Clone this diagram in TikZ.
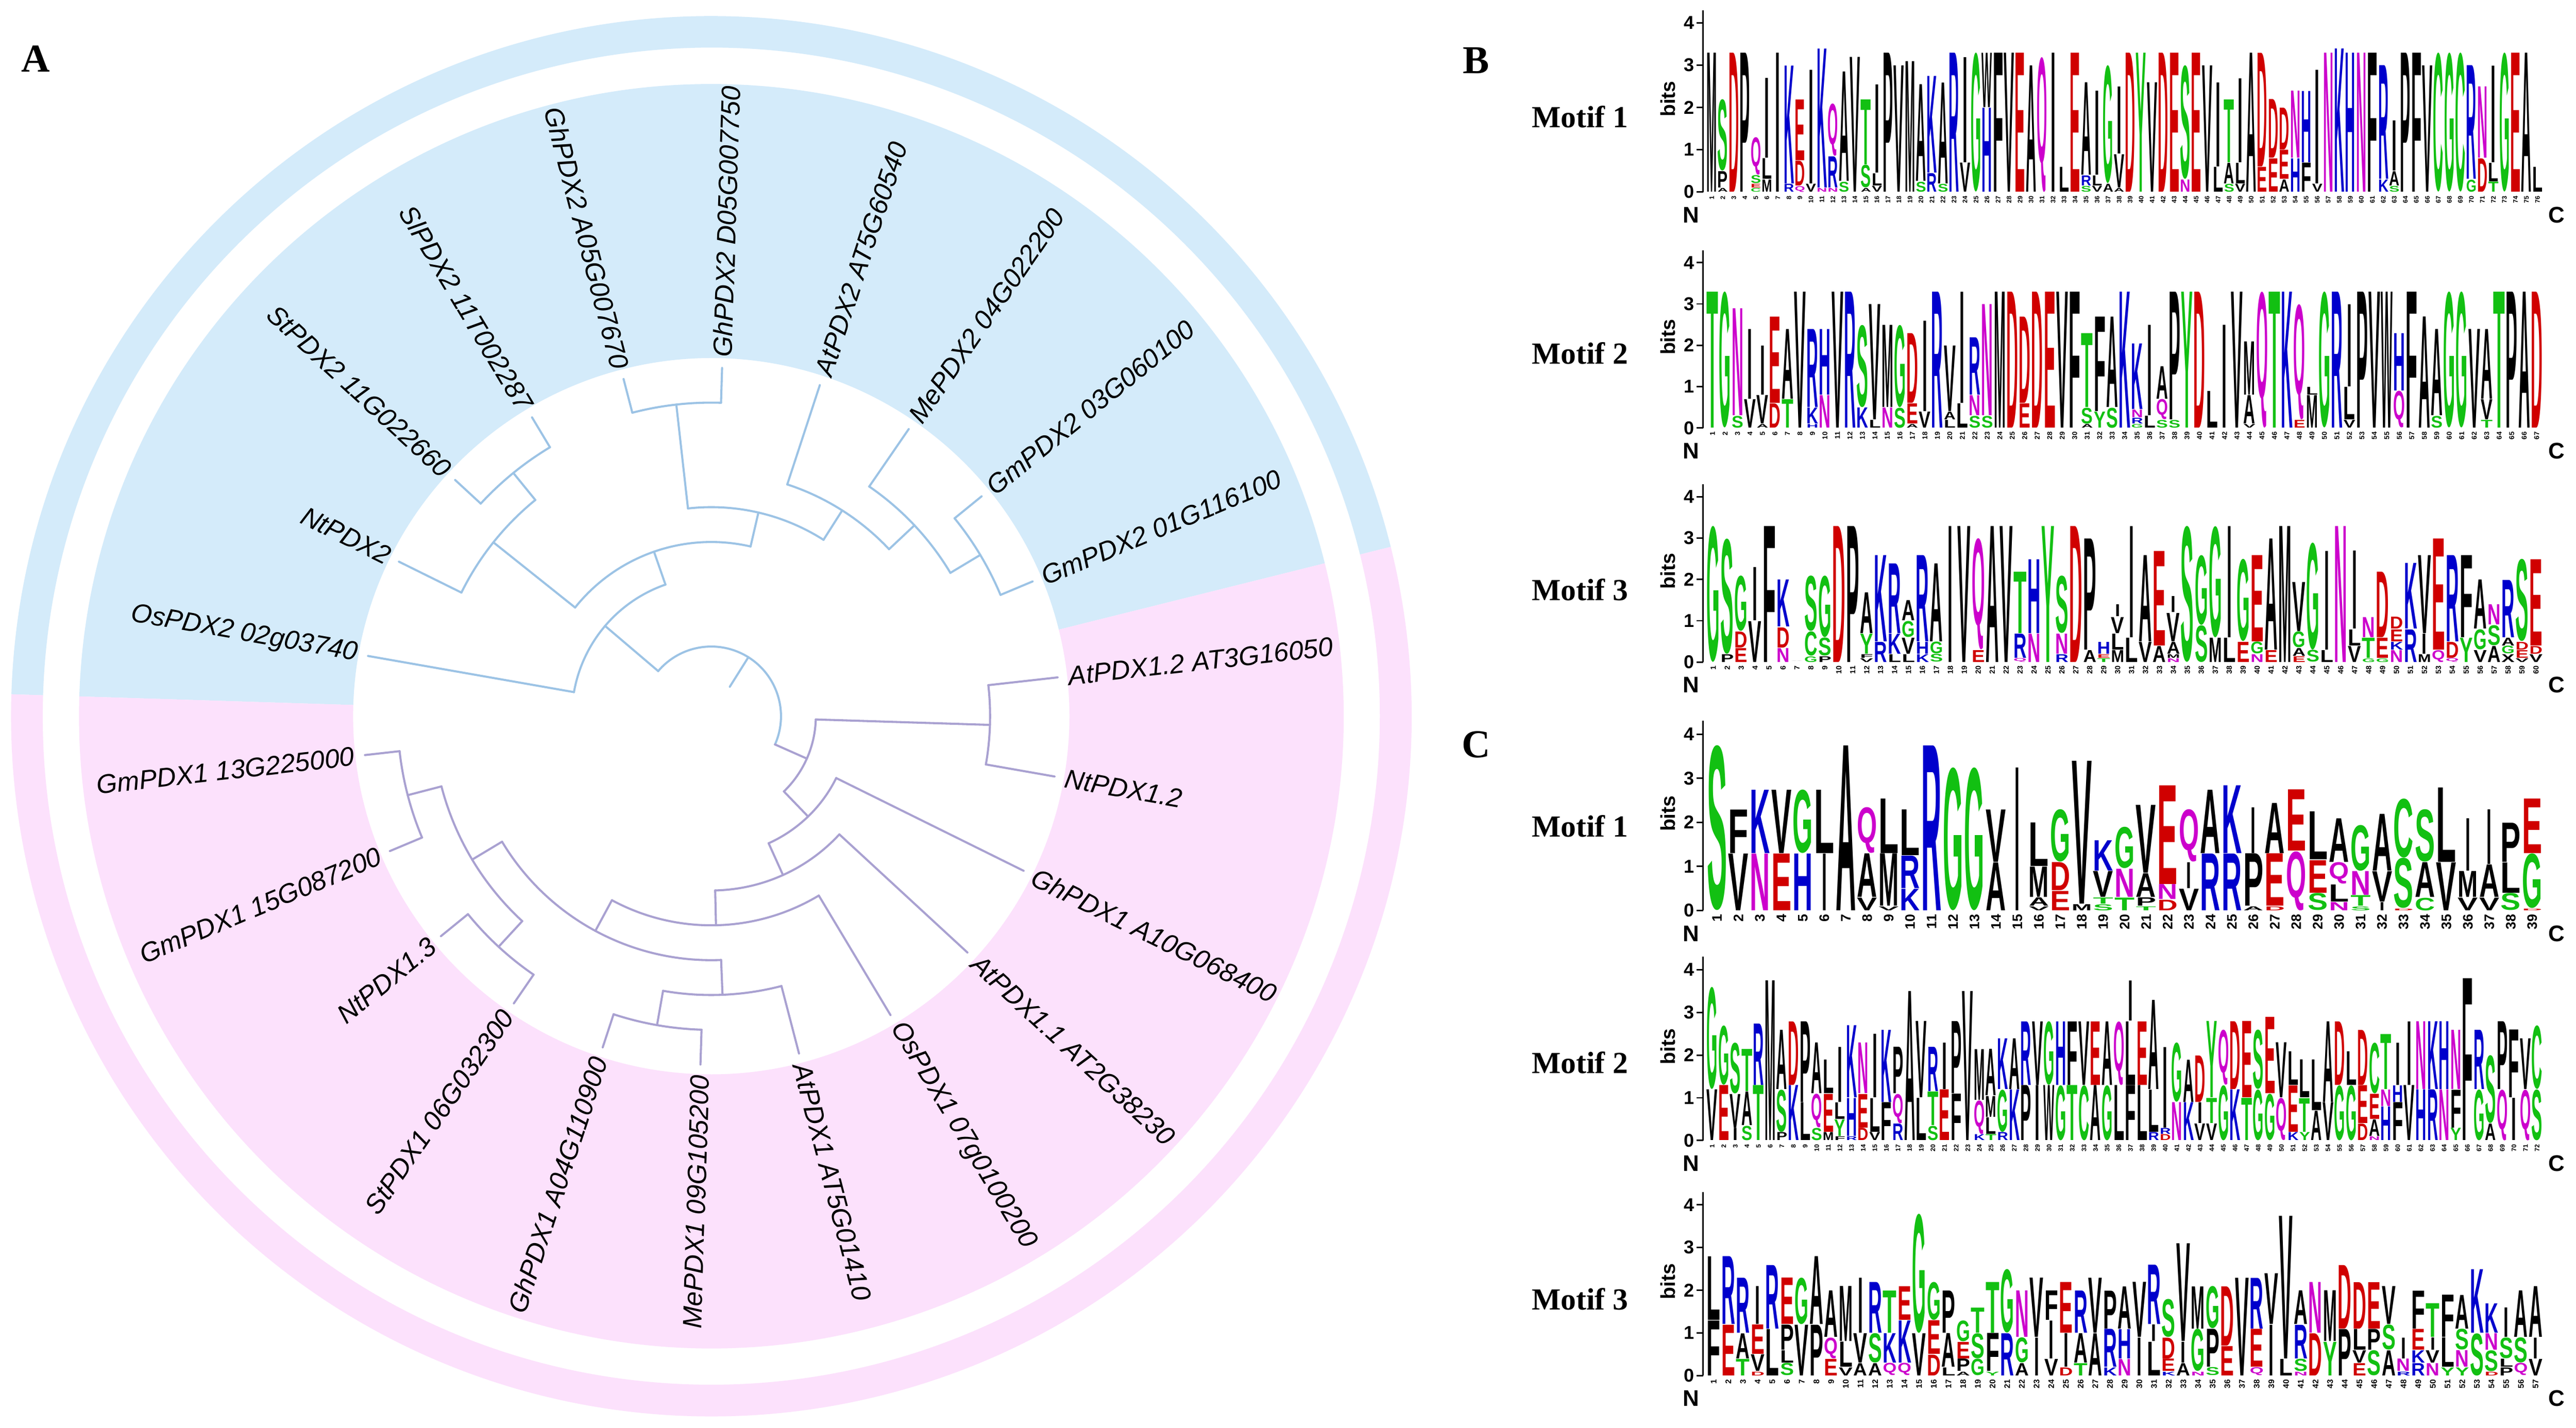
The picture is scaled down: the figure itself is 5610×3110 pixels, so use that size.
\documentclass[tikz,border=0pt]{standalone}
\usepackage{fontspec}
\usepackage{graphicx}
\setmainfont{Liberation Serif}
\newfontfamily\lgfont{Liberation Sans}
\newfontfamily\tipfont{Liberation Sans}
\definecolor{secblue}{HTML}{D4EBFA}
\definecolor{secpink}{HTML}{FCE1FC}
\definecolor{brc}{HTML}{9CC3E5}
\definecolor{prc}{HTML}{A9A1D1}
\definecolor{lgG}{HTML}{12C012}
\definecolor{lgR}{HTML}{D00000}
\definecolor{lgB}{HTML}{0000CC}
\definecolor{lgM}{HTML}{CC00CC}
\colorlet{lcG}{lgG}\colorlet{lcS}{lgG}\colorlet{lcT}{lgG}\colorlet{lcY}{lgG}\colorlet{lcC}{lgG}
\colorlet{lcN}{lgM}\colorlet{lcQ}{lgM}
\colorlet{lcK}{lgB}\colorlet{lcR}{lgB}\colorlet{lcH}{lgB}
\colorlet{lcD}{lgR}\colorlet{lcE}{lgR}
\colorlet{lcA}{black}\colorlet{lcV}{black}\colorlet{lcL}{black}\colorlet{lcI}{black}
\colorlet{lcP}{black}\colorlet{lcW}{black}\colorlet{lcF}{black}\colorlet{lcM}{black}\colorlet{lcX}{black}
\def\letI{I}
\newcommand\drawlogo[4]{%
 \pgfmathsetmacro\cwid{1822/#3}%
 \foreach \col [count=\ci] in {#4} {%
   \pgfmathsetmacro\xc{3716+(\ci-0.5)*\cwid}%
   \xdef\ycur{#1}%
   \foreach \L/\h in \col {%
     \edef\tmpL{\L}%
     \ifx\tmpL\letI \def\wc{0.11}\else\pgfmathsetmacro\wc{\cwid*0.0094}\fi
     \pgfmathsetmacro\hc{max(\h*#2*0.01-0.012,0.002)}%
     \node[inner sep=0pt, outer sep=0pt, anchor=south] at (\xc,\ycur) {\resizebox*{\wc cm}{\hc cm}{\lgfont\bfseries\textcolor{lc\L}{\L}}};%
     \pgfmathsetmacro\ynew{\ycur+\h*#2}%
     \xdef\ycur{\ynew}%
   }%
 }%
}
\newcommand\logoaxes[4]{%
 \draw[line width=0.9pt] (3709,#1) -- (3709,{#1+4.3*#2});
 \foreach \t in {0,...,4}{%
   \draw[line width=0.9pt] (3695,{#1+\t*#2}) -- (3709,{#1+\t*#2});
   \node[anchor=east, inner sep=1pt, font=\lgfont\bfseries\fontsize{11.5}{12}\selectfont] at (3694,{#1+\t*#2}) {\t};
 }
 \node[rotate=90, font=\lgfont\bfseries\fontsize{12.5}{14}\selectfont] at (3632,{#1+2.2*#2}) {bits};
 \node[font=\lgfont\bfseries\fontsize{14}{16}\selectfont] at (3683,{#1-50}) {N};
 \node[font=\lgfont\bfseries\fontsize{14}{16}\selectfont] at (5568,{#1-50}) {C};
 \pgfmathsetmacro\cwid{1822/#3}%
 \foreach \i in {1,...,#3} {%
   \node[rotate=90, anchor=east, inner sep=0pt, font=\lgfont\bfseries\fontsize{#4}{#4}\selectfont] at ({3716+(\i-0.5)*\cwid},{#1-8}) {\i};
 }
}
\tikzset{
 bb/.style={draw=brc, line width=1.3pt, line cap=round, line join=round},
 pb/.style={draw=prc, line width=1.3pt, line cap=round, line join=round},
 lab/.style={font=\tipfont\itshape\fontsize{16.5}{18}\selectfont, inner sep=0pt},
 panel/.style={font=\bfseries\fontsize{24.5}{28}\selectfont, inner sep=0pt},
 motif/.style={font=\bfseries\fontsize{19}{22}\selectfont, inner sep=0pt}
}
\newcommand\rad[4]{\draw[#1] (#2:#3) -- (#2:#4);}
\newcommand\arcc[4]{\draw[#1] (#2:#4) arc[start angle=#2, end angle=#3, radius=#4];}
\newcommand\lblR[3]{\node[lab, anchor=west, rotate=#1] (#2) at (#1:782) {#3};}
\newcommand\lblL[3]{\node[lab, anchor=east, rotate=#1-180] (#2) at (#1:782) {#3};}
\begin{document}
\begin{tikzpicture}[x=0.01cm,y=0.01cm]
\useasboundingbox (0,0) rectangle (5610,3110);
\fill[white] (0,0) rectangle (5610,3110);
% ---------------- Panel A ----------------
\node[panel] (pA) at (78,2982) {A};
\begin{scope}[shift={(1549,1550)}]
\fill[secblue] (14:780) arc[start angle=14,end angle=178.2,radius=780] -- (178.2:1377) arc[start angle=178.2,end angle=14,radius=1377] -- cycle;
\fill[secpink] (178.2:780) arc[start angle=178.2,end angle=374,radius=780] -- (374:1377) arc[start angle=374,end angle=178.2,radius=1377] -- cycle;
\fill[secblue] (14:1456) arc[start angle=14,end angle=178.2,radius=1456] -- (178.2:1525) arc[start angle=178.2,end angle=14,radius=1525] -- cycle;
\fill[secpink] (178.2:1456) arc[start angle=178.2,end angle=374,radius=1456] -- (374:1525) arc[start angle=374,end angle=178.2,radius=1525] -- cycle;
% radii levels
\def\Ra{75.9}\def\Rb{151.8}\def\Rc{227.7}\def\Rd{303.6}\def\Re{379.5}
\def\Rf{455.4}\def\Rg{531.3}\def\Rh{607.2}\def\Ri{683.1}\def\RT{759}
% blue clade
\rad{bb}{57.86}{\Ra}{\Rb}
\arcc{bb}{-23.9}{139.62}{\Rb}
\rad{bb}{139.62}{\Rb}{\Rd}
\arcc{bb}{109.19}{170.04}{\Rd}
\rad{bb}{170.04}{\Rd}{\RT}
\rad{bb}{109.19}{\Rd}{\Re}
\arcc{bb}{76.97}{141.4}{\Re}
\rad{bb}{141.4}{\Re}{\Rh}
\arcc{bb}{129.13}{153.67}{\Rh}
\rad{bb}{153.67}{\Rh}{\RT}
\rad{bb}{129.13}{\Rh}{\Ri}
\arcc{bb}{120.95}{137.31}{\Ri}
\rad{bb}{120.95}{\Ri}{\RT}
\rad{bb}{137.31}{\Ri}{\RT}
\rad{bb}{76.97}{\Re}{\Rf}
\arcc{bb}{57.54}{96.4}{\Rf}
\rad{bb}{96.4}{\Rf}{\Ri}
\arcc{bb}{88.22}{104.58}{\Ri}
\rad{bb}{88.22}{\Ri}{\RT}
\rad{bb}{104.58}{\Ri}{\RT}
\rad{bb}{57.54}{\Rf}{\Rg}
\arcc{bb}{43.22}{71.85}{\Rg}
\rad{bb}{71.85}{\Rg}{\RT}
\rad{bb}{43.22}{\Rg}{\Rh}
\arcc{bb}{30.95}{55.49}{\Rh}
\rad{bb}{55.49}{\Rh}{\RT}
\rad{bb}{30.95}{\Rh}{\Ri}
\arcc{bb}{22.76}{39.13}{\Ri}
\rad{bb}{22.76}{\Ri}{\RT}
\rad{bb}{39.13}{\Ri}{\RT}
% pink clade
\rad{pb}{-23.9}{\Rb}{\Rc}
\arcc{pb}{-46.01}{-1.78}{\Rc}
\rad{pb}{-1.78}{\Rc}{\Rh}
\arcc{pb}{-9.96}{6.4}{\Rh}
\rad{pb}{6.4}{\Rh}{\RT}
\rad{pb}{-9.96}{\Rh}{\RT}
\rad{pb}{-46.01}{\Rc}{\Rd}
\arcc{pb}{-65.7}{-26.33}{\Rd}
\rad{pb}{-26.33}{\Rd}{\RT}
\rad{pb}{-65.7}{\Rd}{\Re}
\arcc{pb}{-88.71}{-42.69}{\Re}
\rad{pb}{-42.69}{\Re}{\RT}
\rad{pb}{-88.71}{\Re}{\Rf}
\arcc{pb}{-118.37}{-59.05}{\Rf}
\rad{pb}{-59.05}{\Rf}{\RT}
\rad{pb}{-118.37}{\Rf}{\Rg}
\arcc{pb}{-149.05}{-87.69}{\Rg}
\rad{pb}{-87.69}{\Rg}{\Rh}
\arcc{pb}{-99.96}{-75.42}{\Rh}
\rad{pb}{-75.42}{\Rh}{\RT}
\rad{pb}{-99.96}{\Rh}{\Ri}
\arcc{pb}{-108.15}{-91.78}{\Ri}
\rad{pb}{-108.15}{\Ri}{\RT}
\rad{pb}{-91.78}{\Ri}{\RT}
\rad{pb}{-149.05}{\Rg}{\Rh}
\arcc{pb}{-165.42}{-132.69}{\Rh}
\rad{pb}{-132.69}{\Rh}{\Ri}
\arcc{pb}{-140.87}{-124.51}{\Ri}
\rad{pb}{-140.87}{\Ri}{\RT}
\rad{pb}{-124.51}{\Ri}{\RT}
\rad{pb}{-165.42}{\Rh}{\Ri}
\arcc{pb}{-173.6}{-157.24}{\Ri}
\rad{pb}{-173.6}{\Ri}{\RT}
\rad{pb}{-157.24}{\Ri}{\RT}
% labels
\lblR{6.4}{l0}{AtPDX1.2 AT3G16050}
\lblR{22.76}{l1}{GmPDX2 01G116100}
\lblR{39.13}{l2}{GmPDX2 03G060100}
\lblR{55.49}{l3}{MePDX2 04G022200}
\lblR{71.85}{l4}{AtPDX2 AT5G60540}
\lblR{88.22}{l5}{GhPDX2 D05G007750}
\lblL{104.58}{l6}{GhPDX2 A05G007670}
\lblL{120.95}{l7}{SlPDX2 11T002287}
\lblL{137.31}{l8}{StPDX2 11G022660}
\lblL{153.67}{l9}{NtPDX2}
\lblL{170.04}{l10}{OsPDX2 02g03740}
\lblL{186.4}{l11}{GmPDX1 13G225000}
\lblL{202.76}{l12}{GmPDX1 15G087200}
\lblL{219.13}{l13}{NtPDX1.3}
\lblL{235.49}{l14}{StPDX1 06G032300}
\lblL{251.85}{l15}{GhPDX1 A04G110900}
\lblL{268.22}{l16}{MePDX1 09G105200}
\lblR{-75.42}{l17}{AtPDX1 AT5G01410}
\lblR{-59.05}{l18}{OsPDX1 07g0100200}
\lblR{-42.69}{l19}{AtPDX1.1 AT2G38230}
\lblR{-26.33}{l20}{GhPDX1 A10G068400}
\lblR{-9.96}{l21}{NtPDX1.2}
\end{scope}
% ---------------- Panels B and C ----------------
\node[panel] (pB) at (3215,2978) {B};
\node[panel] (pC) at (3215,1488) {C};
\node[motif] (mb1) at (3441,2855) {Motif 1};
\node[motif] (mb2) at (3441,2340) {Motif 2};
\node[motif] (mb3) at (3441,1825) {Motif 3};
\node[motif] (mc1) at (3441,1310) {Motif 1};
\node[motif] (mc2) at (3441,795) {Motif 2};
\node[motif] (mc3) at (3441,280) {Motif 3};
% B motif 1
\logoaxes{2692}{92}{76}{4}
\drawlogo{2692}{92}{76}{{M/3.3},{A/0.1,P/0.4,S/1.7},{D/3.3},{P/3.3},{C/0.1,E/0.1,S/0.2,Q/0.9},{M/0.3,L/0.5,I/1.9},{I/3.3},{R/0.2,K/2.8},{Q/0.15,D/0.6,E/1.45},{V/0.2,I/2.7},{N/0.1,K/3.3},{N/0.1,R/0.75,Q/1.25},{S/0.25,A/2.6},{V/3.2},{A/0.1,S/0.55,T/1.55},{V/0.15,L/0.3,I/2.1},{P/3.3},{V/3.0},{M/3.1},{S/0.25,A/2.3},{R/0.45,K/2.3},{S/0.2,A/2.4},{R/3.3},{V/0.7,I/2.5},{G/3.3},{H/2.0,W/1.3},{F/3.3},{V/3.3},{E/3.3},{A/3.0},{Q/3.2},{I/3.3},{L/0.6},{E/3.3},{S/0.15,R/0.25,A/2.2},{V/0.15,L/0.25,I/2.0},{A/0.2,G/2.8},{A/0.1,V/0.8,I/1.6},{D/3.3},{Y/3.3},{V/2.6},{D/3.3},{E/3.3},{N/0.3,S/2.7},{E/3.3},{V/3.0},{L/0.6,I/2.0},{S/0.2,A/0.5,T/1.5},{V/0.2,L/0.5,I/2.0},{A/3.3},{E/0.6,D/2.7},{E/0.8,D/1.4},{A/0.3,E/0.7,D/1.0},{H/0.8,N/1.6},{F/0.7,H/1.7},{V/0.2,I/2.7},{N/3.3},{K/3.4},{H/3.3},{N/3.3},{F/3.3},{K/0.3,R/2.7},{S/0.15,A/0.35,I/1.2},{P/3.3},{F/3.3},{V/3.0},{C/3.3},{G/3.3},{C/3.3},{G/0.3,R/2.7},{D/0.8,N/1.7},{T/0.25,L/0.45,I/2.3},{G/3.3},{E/3.3},{A/3.3},{L/0.6}}
% B motif 2
\logoaxes{2178}{90}{67}{4.3}
\drawlogo{2178}{90}{67}{{T/3.3},{G/3.3},{S/0.3,N/2.6},{V/0.7,I/1.7},{A/0.1,V/0.7,I/1.2},{D/0.6,E/2.1},{T/0.7,A/1.7},{V/3.3},{H/0.1,K/0.4,R/1.9},{N/0.8,H/1.6},{V/3.3},{R/3.3},{K/0.5,S/2.0},{L/0.2,V/2.8},{N/0.5,M/2.0},{S/0.5,G/2.0},{A/0.1,E/0.5,D/1.7},{V/0.4,I/2.2},{R/3.3},{L/0.2,A/0.2,V/1.6},{L/0.6,I/2.7},{S/0.3,N/0.5,R/1.4},{S/0.3,N/2.7},{M/3.3},{D/3.3},{E/0.6,D/2.1},{D/3.3},{E/3.3},{V/3.3},{F/3.3},{A/0.1,S/0.4,T/1.8},{Y/0.4,F/2.3},{S/0.5,A/2.2},{K/3.3},{G/0.1,R/0.15,N/0.2,K/1.6},{L/0.3,I/2.2},{S/0.2,Q/0.5,A/0.8},{S/0.2,P/3.1},{Y/3.3},{D/3.3},{L/0.9},{I/2.5},{V/3.3},{V/0.1,A/0.7,M/1.3},{Q/3.3},{T/3.3},{K/3.3},{E/0.2,Q/2.8},{M/0.8,L/0.2},{G/3.3},{R/3.3},{V/0.2,L/0.8,I/2.0},{P/3.3},{V/3.3},{W/3.3},{Q/0.9,H/1.4},{F/3.3},{A/2.7},{S/0.3,A/2.1},{G/3.3},{G/3.3},{V/2.4},{T/0.2,V/0.5,A/1.7},{T/3.3},{P/3.3},{A/3.3},{D/3.3}}
% B motif 3
\logoaxes{1668}{90}{60}{4.6}
\drawlogo{1668}{90}{60}{{G/3.3},{P/0.2,S/2.8},{E/0.35,D/0.4,G/1.35},{V/1.0,I/1.3},{F/3.3},{N/0.35,D/0.5,K/1.15},{X/0.01},{G/0.15,C/0.6,S/1.35},{P/0.15,S/0.45,G/1.5},{D/3.3},{P/3.3},{V/0.1,F/0.1,Y/0.5,A/1.0},{R/0.5,K/2.1},{L/0.2,K/0.5,R/1.7},{L/0.2,V/0.4,G/0.4,A/0.5},{K/0.2,H/0.3,R/2.1},{S/0.2,G/0.3,A/1.9},{I/3.3},{V/3.3},{E/0.3,Q/2.7},{A/3.3},{V/3.3},{Q/0.1,R/0.6,T/1.5},{N/0.7,H/1.8},{Y/3.3},{R/0.2,N/0.5,S/1.4},{D/3.3},{A/0.3,P/2.7},{T/0.1,E/0.1,H/0.3},{M/0.3,L/0.4,V/0.4,I/0.3},{L/0.6,I/2.7},{V/0.5,A/2.1},{A/0.4,E/2.3},{N/0.1,M/0.1,A/0.3,V/0.7,I/0.4},{S/3.3},{S/0.9,G/1.7},{M/0.6,G/2.7},{L/0.6,I/2.7},{E/0.5,G/2.0},{N/0.2,G/0.3,E/2.1},{E/0.3,A/2.7},{M/3.3},{E/0.15,A/0.2,G/0.4,V/1.2},{S/0.3,G/2.6},{L/0.3,I/2.4},{N/3.3},{V/0.4,L/0.4,I/1.9},{G/0.1,T/0.5,N/0.5},{G/0.1,E/0.5,D/1.6},{N/0.3,K/0.2,E/0.3,D/0.3},{R/0.8,K/1.6},{M/0.2,I/0.5,V/1.9},{Q/0.3,E/2.7},{Q/0.1,D/0.4,R/2.1},{Y/0.6,F/2.0},{V/0.3,G/0.5,A/1.2},{A/0.4,S/0.5,N/0.5},{X/0.2,G/0.2,A/0.2,R/1.4},{V/0.1,E/0.2,D/0.2,S/2.0},{V/0.2,D/0.2,E/2.1}}
% C motif 1
\logoaxes{1127}{96}{39}{8.5}
\drawlogo{1127}{96}{39}{{S/3.75},{V/1.3,F/1.0},{N/1.3,K/1.45},{E/1.3,V/1.45},{H/1.3,G/1.45},{I/1.3,L/1.45},{A/3.75},{V/0.3,A/1.0,Q/1.05},{V/0.1,M/1.2,L/1.25},{K/0.5,R/0.75,L/1.05},{R/3.75},{G/3.25},{G/3.25},{A/1.1,V/1.2},{I/3.25},{V/0.1,A/0.2,M/0.7,L/1.0},{E/0.45,D/0.65,G/1.2},{M/0.15,V/3.25},{S/0.15,T/0.15,V/0.6,K/0.7},{T/0.3,N/0.65,G/0.95},{T/0.1,P/0.2,A/0.55,V/1.55},{D/0.25,N/0.35,E/2.25},{V/0.5,I/0.6,Q/1.2},{R/1.3,A/1.45},{R/1.3,K/1.55},{A/0.1,P/1.2,I/1.05},{D/0.1,E/1.2,A/1.15},{Q/1.35,E/1.4},{S/0.4,E/0.75,L/1.1},{N/0.2,L/0.4,Q/0.5,A/1.0},{S/0.1,T/0.25,N/0.55,G/1.05},{I/0.2,V/0.7,A/1.3},{D/0.05,S/1.15,C/1.35},{C/0.3,A/0.8,S/1.2},{V/1.1,L/1.7},{V/0.3,M/0.6,I/1.2},{V/0.3,A/0.75,I/1.25},{S/0.4,L/0.7,P/0.9},{D/0.05,G/1.25,E/1.25}}
% C motif 2
\logoaxes{626}{93}{72}{4}
\drawlogo{626}{93}{72}{{V/1.2,G/2.4},{E/1.3,G/1.4},{I/0.3,V/0.8,S/1.2},{S/0.35,A/0.8,T/1.0},{T/1.3,R/1.45},{M/3.75},{P/0.2,S/1.0,A/1.4},{K/1.3,D/1.5},{L/0.9,P/1.9},{S/0.3,Q/0.8,A/1.2},{M/0.2,E/0.9,L/0.8},{F/0.1,Y/0.4,L/0.4,I/1.3},{R/0.1,H/0.9,K/1.7},{D/0.3,E/0.8,N/1.2},{V/0.2,L/0.8,I/1.5},{F/0.9,K/1.7},{R/0.4,Q/0.7,P/1.1},{A/3.5},{L/1.0,V/1.8},{S/0.35,T/0.8,R/1.05},{E/1.2,I/1.1},{F/1.1,P/1.7},{V/3.5},{K/0.15,Q/0.8,M/1.2},{T/0.15,L/0.4,M/0.5,A/1.1},{R/0.2,G/1.0,K/1.2},{K/1.2,A/1.2},{P/1.3,R/1.5},{I/1.3,V/1.5},{W/1.3,G/1.5},{G/1.3,H/1.5},{T/1.3,F/1.5},{C/1.3,V/1.5},{A/1.3,E/1.5},{G/1.3,A/1.5},{L/1.3,Q/1.5},{F/1.3,L/1.5,I/0.95},{L/1.3,E/1.5},{R/0.2,L/1.0,A/2.1},{D/0.15,R/0.15,I/1.9},{N/0.9,G/1.4},{K/0.9,A/1.0},{V/0.4,I/0.5,D/1.1},{V/0.4,T/0.6,Y/1.8},{G/1.3,Q/1.3},{K/1.2,D/1.6},{T/1.0,E/1.8},{G/1.2,S/1.4},{G/1.1,E/1.8},{Q/1.0,V/1.3},{K/0.2,E/1.1,L/0.8},{Y/0.2,T/0.8,L/0.9},{A/0.7,L/1.2},{V/0.9,A/1.9},{G/1.3,D/1.5},{G/1.3,L/0.8},{D/0.4,E/0.9,D/1.3},{N/0.1,A/0.4,E/0.6,C/1.2},{H/0.8,N/0.4,T/1.3},{F/0.9,H/0.4,I/1.0},{V/1.3,I/1.5},{H/1.2,N/1.6},{R/1.2,K/1.6},{N/1.2,H/1.6},{Y/0.3,F/0.9,N/1.4},{F/3.8},{G/1.2,R/1.4},{A/0.4,S/1.6},{Q/1.2,P/1.6},{I/1.0,F/1.6},{Q/1.2,V/1.2},{S/1.2,C/1.5}}
% C motif 3
\logoaxes{114}{93}{57}{5}
\drawlogo{114}{93}{57}{{F/1.3,L/1.5},{E/1.2,R/1.6},{T/0.4,A/0.6,R/1.3},{D/0.1,V/0.4,E/0.7,I/0.9},{L/1.1,R/1.5},{S/0.3,L/0.3,P/0.6,E/1.1},{V/1.2,G/1.1},{P/1.2,A/1.6},{E/0.4,Q/0.5,A/1.1},{V/0.2,L/0.6,M/1.3},{A/0.3,V/0.7,I/1.3},{A/0.3,S/0.7,R/1.2},{Q/0.3,K/0.7,T/1.0},{Q/0.3,K/1.0,E/0.8},{V/1.0,G/2.8},{D/0.5,E/0.8,G/0.9},{L/0.2,A/0.8,P/1.0},{A/0.1,P/0.3,E/0.4,G/0.5},{G/0.4,S/0.6,T/0.6},{Y/0.1,F/0.9,T/1.2},{R/1.0,G/1.5},{A/0.3,G/0.6,N/1.1},{I/0.9,V/1.4},{V/0.4,I/0.9,F/0.7},{D/0.2,I/0.8,E/1.2},{T/0.3,A/0.7,R/1.0},{A/1.0,V/1.3},{K/0.2,R/0.9,P/0.9},{N/0.4,H/0.7,A/1.0},{I/0.9,V/1.3},{L/0.8,I/0.4,R/1.4},{K/0.1,E/0.3,D/0.5,S/0.9},{A/0.3,I/0.5,V/2.3},{N/0.1,G/1.0,M/1.0},{S/0.2,P/0.9,G/1.0},{E/0.7,D/1.4},{V/2.3},{Q/0.2,E/0.9,R/1.2},{I/1.2,V/1.2},{L/0.4,V/3.35},{N/0.1,S/0.3,R/0.8,A/0.8},{D/1.0,N/1.2},{Y/0.8,M/1.2},{P/1.1,D/1.5},{E/0.3,V/0.3,L/0.5,D/1.1},{S/0.6,P/0.5,E/1.1},{A/0.6,S/0.6,V/0.9},{R/0.1,N/0.3,I/0.5},{R/0.3,K/0.3,E/0.5,F/0.9},{N/0.3,V/0.3,I/0.3,T/0.8},{Y/0.2,L/0.7,F/1.0},{Y/0.2,N/0.4,S/0.5,A/0.8},{S/1.0,K/1.5},{D/0.1,S/0.5,N/0.4,K/0.7},{P/0.2,L/0.2,S/0.5,I/0.7},{Q/0.3,S/0.6,A/1.1},{V/0.4,I/0.5,A/1.2}}
\end{tikzpicture}
\end{document}
